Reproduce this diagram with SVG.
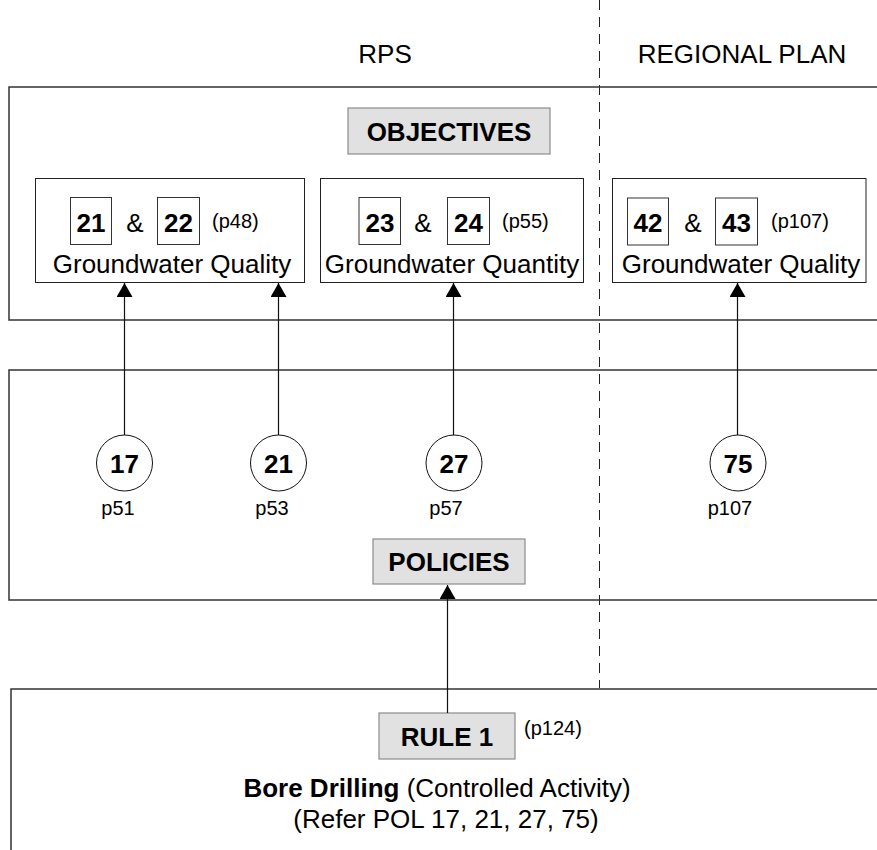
<svg xmlns="http://www.w3.org/2000/svg" width="877" height="850" viewBox="0 0 877 850">
<style>
text{font-family:"Liberation Sans",Arial,sans-serif;fill:#000}
.hdr{font-size:26px}
.b{font-weight:bold;font-size:26px}
.r{font-size:26px}
.s{font-size:20px}
.m{text-anchor:middle}
.panel{fill:none;stroke:#333;stroke-width:1.5}
.box{fill:#fff;stroke:#222;stroke-width:1}
.num{fill:#fff;stroke:#333;stroke-width:1}
.gray{fill:#e1e1e1;stroke:#8c8c8c;stroke-width:1.2}
.circ{fill:#fff;stroke:#111;stroke-width:1}
.con{stroke:#111;stroke-width:1.2;fill:none}
.dash{stroke:#222;stroke-width:1;stroke-dasharray:10 7;fill:none}
</style>
<defs>
<marker id="ah" markerWidth="14" markerHeight="16" refX="14" refY="8" orient="auto" markerUnits="userSpaceOnUse" viewBox="0 0 14 16">
<path d="M0,0 L14,8 L0,16 Z" fill="#000"/>
</marker>
</defs>

<g id="headers">
<text class="hdr m" x="385" y="63">RPS</text>
<text class="hdr m" x="742" y="63">REGIONAL PLAN</text>
</g>

<g id="divider">
<line class="dash" x1="599.5" y1="0" x2="599.5" y2="688"/>
</g>

<g id="objectives-panel">
<rect class="panel" x="9" y="87" width="900" height="233"/>
<rect class="gray" x="348" y="108" width="202" height="46"/>
<text class="b m" x="449" y="141">OBJECTIVES</text>
</g>

<g id="obj-21-22">
<rect class="box" x="35.5" y="178.5" width="269" height="104"/>
<rect class="num" x="70.5" y="197.5" width="41" height="47"/>
<text class="b m" x="91" y="232">21</text>
<text class="r m" x="135" y="232">&amp;</text>
<rect class="num" x="157.5" y="197.5" width="42" height="47"/>
<text class="b m" x="178.5" y="232">22</text>
<text class="s" x="212" y="228">(p48)</text>
<text class="r m" x="172" y="273">Groundwater Quality</text>
</g>

<g id="obj-23-24">
<rect class="box" x="320.5" y="178.5" width="263" height="104"/>
<rect class="num" x="359" y="197.5" width="41.5" height="47"/>
<text class="b m" x="380" y="232">23</text>
<text class="r m" x="423" y="232">&amp;</text>
<rect class="num" x="447.5" y="197.5" width="42" height="47"/>
<text class="b m" x="468.5" y="232">24</text>
<text class="s" x="502" y="228">(p55)</text>
<text class="r m" x="452" y="273">Groundwater Quantity</text>
</g>

<g id="obj-42-43">
<rect class="box" x="612.5" y="178.5" width="253.5" height="104"/>
<rect class="num" x="627.5" y="198" width="41" height="47"/>
<text class="b m" x="648" y="232">42</text>
<text class="r m" x="693" y="232">&amp;</text>
<rect class="num" x="715.5" y="198" width="42" height="47"/>
<text class="b m" x="736.5" y="232">43</text>
<text class="s" x="771" y="228">(p107)</text>
<text class="r m" x="741" y="273">Groundwater Quality</text>
</g>

<g id="policies-panel">
<rect class="panel" x="9" y="370" width="900" height="230"/>
<rect class="gray" x="373" y="539" width="152" height="45"/>
<text class="b m" x="449" y="571">POLICIES</text>
</g>

<g id="pol-17">
<circle class="circ" cx="124.5" cy="463" r="28"/>
<text class="b m" x="124.5" y="473">17</text>
<text class="s m" x="118" y="515">p51</text>
</g>
<g id="pol-21">
<circle class="circ" cx="278.5" cy="463" r="28"/>
<text class="b m" x="278.5" y="473">21</text>
<text class="s m" x="272" y="515">p53</text>
</g>
<g id="pol-27">
<circle class="circ" cx="454" cy="463" r="28"/>
<text class="b m" x="454" y="473">27</text>
<text class="s m" x="446" y="515">p57</text>
</g>
<g id="pol-75">
<circle class="circ" cx="738" cy="463" r="28"/>
<text class="b m" x="738" y="473">75</text>
<text class="s m" x="730" y="515">p107</text>
</g>

<g id="rule-panel">
<rect class="panel" x="11" y="689" width="900" height="200"/>
<rect class="gray" x="379" y="713" width="136" height="46"/>
<text class="b m" x="447" y="746">RULE 1</text>
<text class="s" x="524" y="735">(p124)</text>
<text class="m r" x="437" y="797"><tspan font-weight="bold">Bore Drilling</tspan> (Controlled Activity)</text>
<text class="m r" x="446" y="828">(Refer POL 17, 21, 27, 75)</text>
</g>

<g id="connectors">
<line class="con" x1="124.5" y1="435" x2="124.5" y2="283" marker-end="url(#ah)"/>
<line class="con" x1="278.5" y1="435" x2="278.5" y2="283" marker-end="url(#ah)"/>
<line class="con" x1="453.5" y1="435" x2="453.5" y2="283" marker-end="url(#ah)"/>
<line class="con" x1="737.5" y1="435" x2="737.5" y2="283" marker-end="url(#ah)"/>
<line class="con" x1="447.5" y1="713" x2="447.5" y2="585" marker-end="url(#ah)"/>
</g>
</svg>
